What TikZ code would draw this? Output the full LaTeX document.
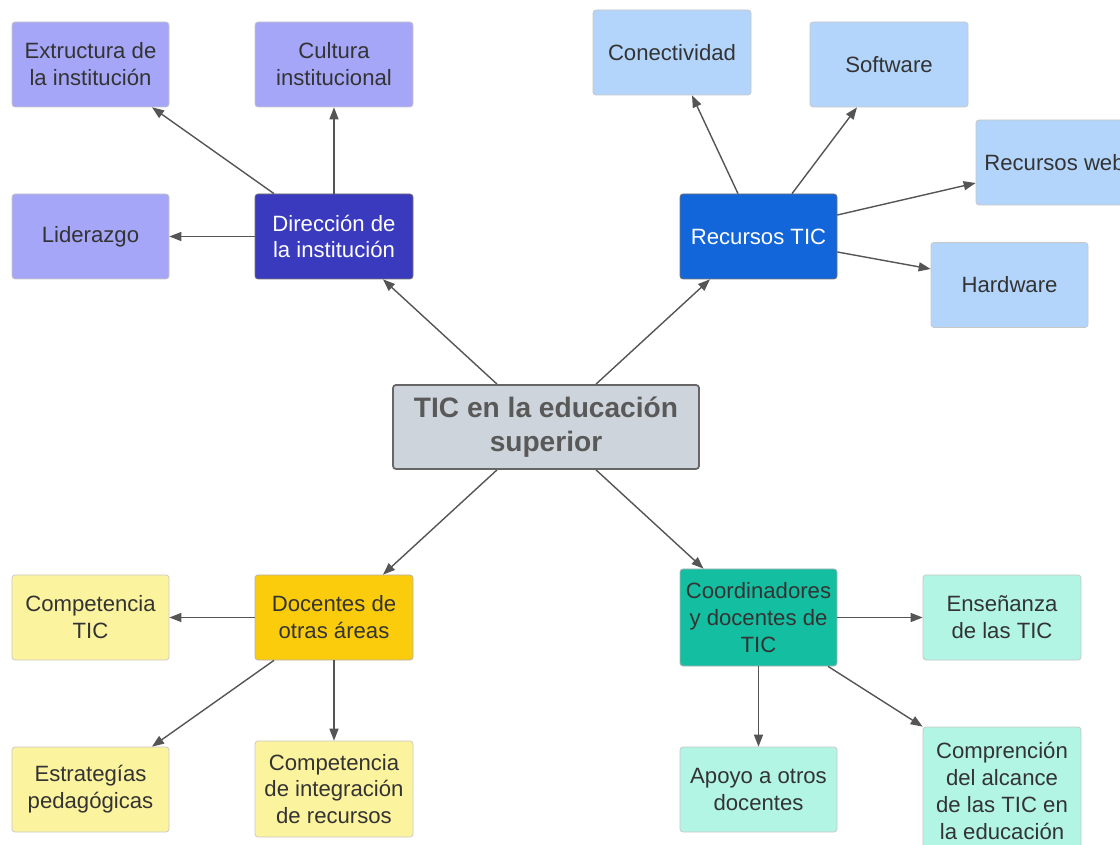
\documentclass[tikz,border=0pt]{standalone}
\usepackage{fontspec}
\setmainfont{Liberation Sans}
\usepackage{tikz}
\usetikzlibrary{arrows.meta,positioning}
\definecolor{lilac}{HTML}{A6A6F8}
\definecolor{indigo}{HTML}{3A3ABE}
\definecolor{skyb}{HTML}{B4D5FB}
\definecolor{royal}{HTML}{1366DA}
\definecolor{lemon}{HTML}{FCF39E}
\definecolor{gold}{HTML}{FBCC0C}
\definecolor{mint}{HTML}{B2F5E4}
\definecolor{teal}{HTML}{14BEA0}
\definecolor{slate}{HTML}{CED4DB}
\definecolor{ink}{HTML}{333333}
\definecolor{arrowgray}{HTML}{555555}

\begin{document}
\begin{tikzpicture}[
  font=\fontsize{12.6}{15.3}\selectfont,
  box/.style={draw=black!22,line width=0.4pt,rounded corners=1.7pt,align=center,
    minimum width=3.14cm,minimum height=1.7cm,inner sep=0pt,text=ink},
  lvA/.style={box,fill=lilac},
  lvB/.style={box,fill=skyb},
  lvC/.style={box,fill=lemon},
  lvD/.style={box,fill=mint},
  hub/.style={box,draw=black!55,text=white},
  root/.style={box,draw=black!60,line width=1pt,fill=slate,minimum width=6.12cm,
    minimum height=1.68cm,font=\fontsize{16}{19.3}\selectfont\bfseries,text=black!65},
  arr/.style={draw=arrowgray,line width=0.8pt,-{Triangle[length=2.4mm,width=1.8mm]}}
]
\clip (0,0) rectangle (22.4,-16.9);
\useasboundingbox (0,0) rectangle (22.4,-16.9);
% Root
\node[root] (tic) at (10.92,-8.54) {TIC en la educación\\superior};
% Dirección
\node[hub,fill=indigo,minimum width=3.16cm] (dir) at (6.68,-4.73) {Dirección de\\la institución};
\node[lvA] (ext) at (1.81,-1.29) {Extructura de\\la institución};
\node[lvA,minimum width=3.16cm] (cul) at (6.68,-1.29) {Cultura\\institucional};
\node[lvA] (lid) at (1.81,-4.73) {Liderazgo};
% Recursos TIC
\node[hub,fill=royal] (rec) at (15.17,-4.73) {Recursos TIC};
\node[lvB,minimum width=3.16cm] (con) at (13.44,-1.05) {Conectividad};
\node[lvB,minimum width=3.16cm] (sof) at (17.78,-1.29) {Software};
\node[lvB] (web) at (21.09,-3.25) {Recursos web};
\node[lvB] (hw) at (20.19,-5.70) {Hardware};
% Docentes de otras áreas
\node[box,fill=gold,draw=black!30,minimum width=3.16cm] (doc) at (6.68,-12.35) {Docentes de\\otras áreas};
\node[lvC] (ctic) at (1.81,-12.35) {Competencia\\TIC};
\node[lvC] (est) at (1.81,-15.79) {Estrategías\\pedagógicas};
\node[lvC,minimum width=3.16cm,minimum height=1.92cm] (cint) at (6.68,-15.78) {Competencia\\de integración\\de recursos};
% Coordinadores y docentes de TIC
\node[box,fill=teal,draw=black!30,minimum height=1.94cm] (coo) at (15.17,-12.35) {Coordinadores\\y docentes de\\TIC};
\node[lvD,minimum width=3.16cm] (ens) at (20.04,-12.35) {Enseñanza\\de las TIC};
\node[lvD] (apo) at (15.17,-15.79) {Apoyo a otros\\docentes};
\node[lvD,minimum width=3.16cm,minimum height=2.56cm] (cmp) at (20.04,-15.82) {Comprención\\del alcance\\de las TIC en\\la educación};
% Connectors
\draw[arr] ([xshift=-0.98cm]tic.north) -- ([xshift=0.98cm]dir.south);
\draw[arr] ([xshift=1.0cm]tic.north) -- ([xshift=-0.97cm]rec.south);
\draw[arr] ([xshift=-0.98cm]tic.south) -- ([xshift=0.98cm]doc.north);
\draw[arr] ([xshift=1.0cm]tic.south) -- ([xshift=-1.1cm]coo.north);
\draw[arr] ([xshift=-1.2cm]dir.north) -- ([xshift=1.23cm]ext.south);
\draw[arr] (dir.north) -- (cul.south);
\draw[arr] (dir.west) -- (lid.east);
\draw[arr] ([xshift=-0.41cm]rec.north) -- ([xshift=0.4cm]con.south);
\draw[arr] ([xshift=0.67cm]rec.north) -- ([xshift=-0.64cm]sof.south);
\draw[arr] ([yshift=0.43cm]rec.east) -- ([yshift=-0.41cm]web.west);
\draw[arr] ([yshift=-0.31cm]rec.east) -- ([yshift=0.32cm]hw.west);
\draw[arr] (doc.west) -- (ctic.east);
\draw[arr] ([xshift=-1.2cm]doc.south) -- ([xshift=1.23cm]est.north);
\draw[arr] (doc.south) -- (cint.north);
\draw[arr] (coo.east) -- (ens.west);
\draw[arr] (coo.south) -- (apo.north);
\draw[arr] ([xshift=1.39cm]coo.south) -- (cmp.north west);
\end{tikzpicture}
\end{document}
